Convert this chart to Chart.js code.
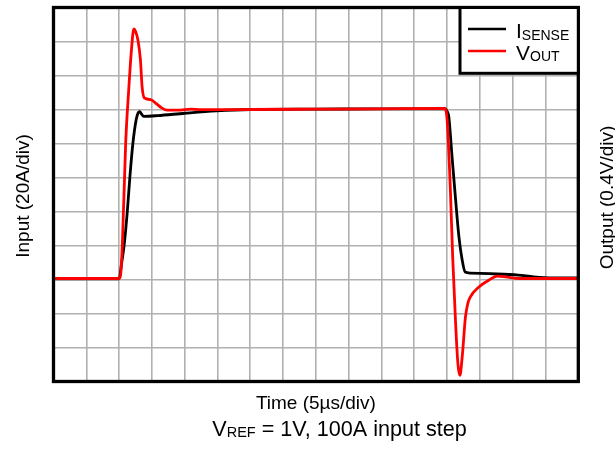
<!DOCTYPE html>
<html>
<head>
<meta charset="utf-8">
<script src="https://cdn.jsdelivr.net/npm/chart.js@4"></script>
<style>
  html, body { margin: 0; padding: 0; background: #fff; }
  #wrap { width: 615px; height: 453px; position: relative; }
</style>
</head>
<body>
<div id="wrap"><canvas id="stepCanvas"></canvas></div>
<script>
// current-sense amplifier step response, 5us/div, 20A/div in, 0.4V/div out
const isenseTime = [0, 5, 10, 10.4, 10.8, 11.25, 11.65, 12.1, 12.6, 12.9, 13.15, 13.4, 13.75, 15.85, 20, 24.8, 30, 40, 50, 59.75,
  60, 60.25, 60.75, 61.3, 61.8, 62.3, 62.75, 63.55, 66.5, 70.85, 73.2, 76, 80];
const isenseAmps = [0.4, 0.4, 0.4, 10, 21.2, 40, 60.6, 80, 94, 98, 98.8, 97.4, 96, 96.4, 97.8, 99.2, 100, 100.2, 100.4, 100.4,
  99, 96, 72.4, 46.8, 25.2, 11.4, 4.4, 3.8, 3.4, 2.6, 1.6, 1.0, 1.0];

const voutTime = [0, 10, 10.2, 10.5, 11, 11.5, 11.9, 12.25, 12.5, 12.85, 13.25, 13.5, 13.85, 14.8, 15.55, 16.55, 17.35, 19, 20.9, 22.5,
  30, 40, 50, 59.65, 60, 60.5, 60.85, 61.3, 61.65, 61.95, 62.3, 62.8, 63.15, 63.55, 64.85, 66.35, 67.65, 68.9, 71, 80];
const voutVolts = [1.012, 1.012, 1.04, 1.424, 2.6, 3.272, 3.72, 3.948, 3.92, 3.824, 3.588, 3.272, 3.136, 3.116, 3.076, 3.016, 2.992, 2.992, 3.004, 2.998,
  3.0, 3.004, 3.008, 3.012, 2.88, 2.052, 1.268, 0.48, 0.008, -0.128, 0.088, 0.56, 0.716, 0.796, 0.912, 0.992, 1.04, 1.032, 1.012, 1.012];

const seriesNames = [['I', 'SENSE'], ['V', 'OUT']];
const seriesColors = ['#000000', '#ff0000'];

const xTitle = 'Time (5\u00b5s/div)';
const leftTitle = 'Input (20A/div)';
const rightTitle = 'Output (0.4V/div)';
const captionMain = ['V', 'REF', ' = 1V, 100A input step'];

const FONT = '"Liberation Sans", Arial, sans-serif';

function pts(xs, ys) {
  return xs.map((x, i) => ({ x: x, y: ys[i] }));
}

// text with a subscript part: [base, sub, rest]
function drawSub(ctx, x, y, parts, size, subSize, subDrop) {
  ctx.textAlign = 'left';
  ctx.textBaseline = 'alphabetic';
  ctx.font = size + 'px ' + FONT;
  ctx.fillText(parts[0], x, y);
  x += ctx.measureText(parts[0]).width;
  ctx.font = subSize + 'px ' + FONT;
  ctx.fillText(parts[1], x, y + subDrop);
  x += ctx.measureText(parts[1]).width;
  if (parts[2]) {
    ctx.font = size + 'px ' + FONT;
    ctx.fillText(parts[2], x, y);
  }
}

const scopeDecor = {
  id: 'scopeDecor',
  afterDraw(chart) {
    const ctx = chart.ctx;
    const a = chart.chartArea;
    ctx.save();

    // outer frame
    ctx.strokeStyle = '#000';
    ctx.lineWidth = 3.3;
    ctx.strokeRect(a.left, a.top, a.right - a.left, a.bottom - a.top);

    // legend box in the top right corner
    const lx = 460, ly = a.top, lw = a.right - 460, lh = 73.3 - a.top;
    ctx.fillStyle = '#fff';
    ctx.fillRect(lx, ly, lw, lh);
    ctx.lineWidth = 3;
    ctx.strokeRect(lx, ly, lw, lh);
    const rowY = [29, 51];
    const textY = [38.3, 60];
    seriesNames.forEach((name, i) => {
      ctx.strokeStyle = seriesColors[i];
      ctx.lineWidth = 2.7;
      ctx.beginPath();
      ctx.moveTo(468, rowY[i]);
      ctx.lineTo(506, rowY[i]);
      ctx.stroke();
      ctx.fillStyle = '#000';
      drawSub(ctx, 516, textY[i], name, 21, 14, 1.3);
    });

    ctx.fillStyle = '#000';
    // axis titles
    ctx.font = '19px ' + FONT;
    ctx.textAlign = 'center';
    ctx.textBaseline = 'alphabetic';
    ctx.fillText(xTitle, (a.left + a.right) / 2, 409.3);

    ctx.save();
    ctx.translate(29.4, 196);
    ctx.rotate(-Math.PI / 2);
    ctx.fillText(leftTitle, 0, 0);
    ctx.restore();

    ctx.save();
    ctx.translate(613, 197.5);
    ctx.rotate(-Math.PI / 2);
    ctx.fillText(rightTitle, 0, 0);
    ctx.restore();

    // caption under the axis title
    drawSub(ctx, 212.3, 435.7, captionMain, 21.6, 14.5, 1.5);
    ctx.restore();
  }
};

const ctx = document.getElementById('stepCanvas').getContext('2d');
new Chart(ctx, {
  type: 'line',
  data: {
    datasets: [
      {
        label: seriesNames[0].join(''),
        data: pts(isenseTime, isenseAmps),
        yAxisID: 'yIn',
        borderColor: seriesColors[0],
        borderWidth: 2.8,
        pointRadius: 0,
        cubicInterpolationMode: 'monotone',
        order: 2
      },
      {
        label: seriesNames[1].join(''),
        data: pts(voutTime, voutVolts),
        yAxisID: 'yOut',
        borderColor: seriesColors[1],
        borderWidth: 2.8,
        pointRadius: 0,
        cubicInterpolationMode: 'monotone',
        order: 1
      }
    ]
  },
  options: {
    responsive: true,
    maintainAspectRatio: false,
    animation: false,
    layout: { padding: { left: 53.5, right: 36.7, top: 7.5, bottom: 71.5 } },
    plugins: {
      legend: { display: false },
      tooltip: { enabled: false }
    },
    scales: {
      x: {
        type: 'linear',
        min: 0,
        max: 80,
        ticks: { display: false, stepSize: 5 },
        grid: { color: '#b0b0b0', lineWidth: 1.6, drawTicks: false },
        border: { display: false }
      },
      yIn: {
        position: 'left',
        min: -60,
        max: 160,
        ticks: { display: false, stepSize: 20 },
        grid: { color: '#b0b0b0', lineWidth: 1.6, drawTicks: false },
        border: { display: false }
      },
      yOut: {
        position: 'right',
        min: -0.2,
        max: 4.2,
        ticks: { display: false },
        grid: { display: false, drawTicks: false },
        border: { display: false }
      }
    }
  },
  plugins: [scopeDecor]
});
</script>
</body>
</html>
